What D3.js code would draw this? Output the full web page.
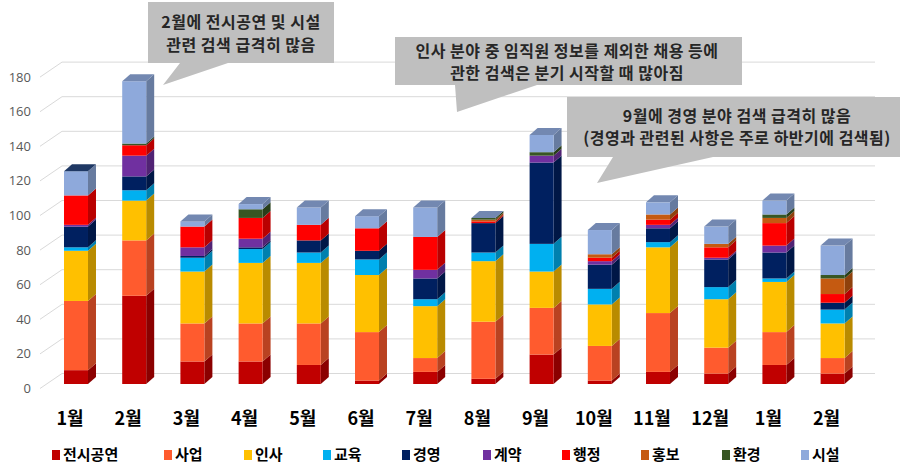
<!DOCTYPE html>
<html><head><meta charset="utf-8">
<script src="https://cdn.jsdelivr.net/npm/d3@7"></script>
<style>
html,body{margin:0;padding:0;background:#fff;}
svg{display:block;font-family:"Noto Sans CJK KR","Noto Sans",sans-serif;}
</style></head>
<body><svg id="c" width="901" height="466"></svg>
<script>
const months = ["1월","2월","3월","4월","5월","6월","7월","8월","9월","10월","11월","12월","1월","2월"];
const seriesNames = ["전시공연","사업","인사","교육","경영","계약","행정","홍보","환경","시설"];
const seriesColors = ["#C00000","#FF5B2E","#FFC000","#00B0F0","#002060","#7030A0","#FF0000","#C55A11","#375623","#8EA9DB"];
const v전시공연 = [8,51,13,13,11,2,7,3,17,2,7,6,11,6];
const v사업 = [40,32,22,22,24,28,8,33,27,20,34,15,19,9];
const v인사 = [29,23,30,35,35,33,30,35,21,24,38,28,29,20];
const v교육 = [2,6,8,8,6,9,4,5,16,9,3,7,2,8];
const v경영 = [12,8,1,1,7,5,12,17,47,14,8,16,15,4];
const v계약 = [1,12,5,5,0,0,5,0,4,2,2,1,4,0];
const v행정 = [17,6,12,12,9,13,19,1,0,2,3,6,13,5];
const v홍보 = [0,0,0,0,0,0,0,1,0,2,3,2,3,9];
const v환경 = [0,1,0,5,0,0,0,1,2,0,0,0,2,2];
const v시설 = [14,36,3,3,10,7,17,0,10,14,7,10,8,17];
const yTicks = [0,20,40,60,80,100,120,140,160,180];
const notes = [
  ["2월에 전시공연 및 시설","관련 검색 급격히 많음"],
  ["인사 분야 중 임직원 정보를 제외한 채용 등에","관한 검색은 분기 시작할 때 많아짐"],
  ["9월에 경영 분야 검색 급격히 많음","(경영과 관련된 사항은 주로 하반기에 검색됨)"]
];

const values = [v전시공연,v사업,v인사,v교육,v경영,v계약,v행정,v홍보,v환경,v시설];
const svg = d3.select("#c");
const n = months.length;
const idx = d3.range(n);
const table = idx.map(i => {
  const o = {i};
  seriesNames.forEach((s,k) => o[s] = values[k][i]);
  return o;
});
const stack = d3.stack().keys(seriesNames)(table);

const x = d3.scaleBand().domain(idx).range([46.9, 861.7]).paddingInner(0.588).paddingOuter(0.294);
const yFront = d3.scaleLinear().domain([0,180]).range([384, 72.6]);
const yLab = d3.scaleLinear().domain([0,180]).range([388.5, 77.1]);
const DX = 8, DY = 7, GX0 = 40, GX1 = 62, GXR = 875, GDY = 15;

// gridlines
const grid = svg.append("g");
yTicks.forEach(t => {
  const yl = yLab(t);
  grid.append("path")
    .attr("d", `M${GX0},${yl} L${GX1},${yl-GDY} L${GXR},${yl-GDY}`)
    .attr("fill","none").attr("stroke","#D9D9D9").attr("stroke-width",1);
});
// y labels
svg.append("g").selectAll("text").data(yTicks).join("text")
  .attr("x",31).attr("y",d=>yLab(d)+4.5).attr("text-anchor","end")
  .attr("font-size",13).attr("fill","#595959").attr("font-family","'Open Sans','Noto Sans',sans-serif")
  .text(d=>d);

// bars
const bw = x.bandwidth();
const gb = svg.append("g");
idx.forEach(i => {
  let topK = -1;
  stack.forEach((layer,k) => {
    const d = layer[i];
    if (d[1]-d[0] <= 0) return;
    topK = k;
    const x0 = x(i), x1 = x0 + bw;
    const yT = yFront(d[1]), yB = yFront(d[0]);
    const c = d3.color(seriesColors[k]);
    gb.append("path")
      .attr("d", `M${x1},${yB} L${x1+DX},${yB-DY} L${x1+DX},${yT-DY} L${x1},${yT} Z`)
      .attr("fill", c.darker(0.9));
    gb.append("rect").attr("x",x0).attr("y",yT).attr("width",bw).attr("height",yB-yT)
      .attr("fill", c);
  });
  if (topK >= 0) {
    const yT = yFront(stack[topK][i][1]);
    const x0 = x(i), x1 = x0 + bw;
    gb.append("path")
      .attr("d", `M${x0},${yT} L${x0+DX},${yT-DY} L${x1+DX},${yT-DY} L${x1},${yT} Z`)
      .attr("fill", i === 0 ? "#1F3864" : d3.color(seriesColors[9]).darker(0.6));
  }
});

// x labels
svg.append("g").selectAll("text").data(idx).join("text")
  .attr("x",i=>x(i)+bw/2-6).attr("y",425).attr("text-anchor","middle")
  .attr("font-size",18).attr("font-weight","bold").attr("fill","#000")
  .text(i=>months[i]);

// legend
const legX = [52,164,244,323,402,483,562,641,722,801];
const lg = svg.append("g");
seriesNames.forEach((s,k) => {
  lg.append("rect").attr("x",legX[k]).attr("y",450).attr("width",8).attr("height",10).attr("fill",seriesColors[k]);
  lg.append("text").attr("x",legX[k]+11).attr("y",460).attr("font-size",15).attr("font-weight","bold")
    .attr("fill","#000").text(s);
});

// callouts
const callouts = [
  {box:[148,2,334,63], tail:[[180,63],[228,63],[163,85]], cx:241, ly:[28,51]},
  {box:[395,37,742,85], tail:[[455,85],[537,85],[457,112]], cx:567, ly:[57,79]},
  {box:[567,97,900,157], tail:[[613,157],[713,157],[597,183]], cx:737, ly:[122,144]}
];
const cg = svg.append("g");
callouts.forEach((c,j) => {
  const [a,b,r,bt] = c.box;
  cg.append("path")
    .attr("d", `M${a},${b} L${r},${b} L${r},${bt} L${c.tail[1][0]},${bt} L${c.tail[2][0]},${c.tail[2][1]} L${c.tail[0][0]},${bt} L${a},${bt} Z`)
    .attr("fill","#BFBFBF");
  notes[j].forEach((t,li) => {
    cg.append("text").attr("x",c.cx).attr("y",c.ly[li]).attr("text-anchor","middle")
      .attr("font-size",16).attr("font-weight","bold").attr("fill","#262626")
      .attr("letter-spacing",0.5).text(t);
  });
});
</script></body></html>
